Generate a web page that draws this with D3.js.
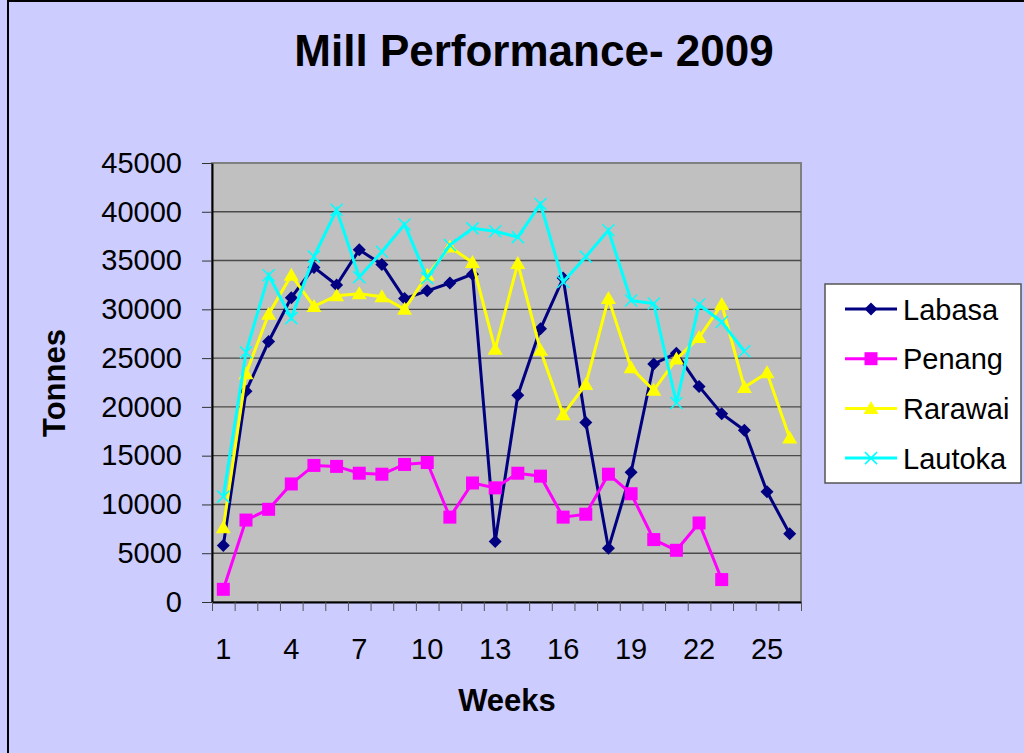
<!DOCTYPE html>
<html>
<head>
<meta charset="utf-8">
<script src="https://cdn.jsdelivr.net/npm/d3@7"></script>
<style>
  body { margin: 0; background: #ccccff; }
  svg { display: block; font-family: Arial, "Liberation Sans", sans-serif; }
</style>
</head>
<body>
<div id="chart"></div>
<script>
// Mill Performance 2009 - weekly tonnes per mill

const weeks = d3.range(1, 27);
const xTickLabels = [1, 4, 7, 10, 13, 16, 19, 22, 25];
const yTicks = [0, 5000, 10000, 15000, 20000, 25000, 30000, 35000, 40000, 45000];

const labasa = [5800, 21600, 26700, 31200, 34300, 32500, 36100, 34600, 31100, 31900, 32700, 33600, 6200,
    21200, 28000, 33200, 18400, 5500, 13300, 24400, 25500, 22100, 19300, 17600, 11300, 7000];
const penang = [1300, 8400, 9500, 12100, 14000, 13900, 13200, 13100, 14100, 14300, 8700, 12200, 11700,
    13200, 12900, 8700, 9000, 13100, 11100, 6400, 5300, 8100, 2300];
const rarawai = [7600, 23400, 29500, 33500, 30300, 31400, 31600, 31300, 30000, 33500, 36400, 34800, 25900,
    34700, 25800, 19200, 22300, 31100, 24000, 21700, 24900, 27100, 30500, 22000, 23500, 16800];
const lautoka = [10800, 25600, 33500, 29100, 35400, 40200, 33300, 35900, 38700, 33200, 36600, 38300, 38000,
    37400, 40800, 32800, 35400, 38100, 30900, 30600, 20400, 30500, 28700, 25700];

const seriesNames = ["Labasa", "Penang", "Rarawai", "Lautoka"];
const seriesColors = ["#000080", "#ff00ff", "#ffff00", "#00ffff"];
const seriesSymbols = ["diamond", "square", "triangle", "cross"];
const seriesData = [labasa, penang, rarawai, lautoka];

const width = 1024, height = 753;
const plot = { left: 212, right: 801, top: 163, bottom: 602 };

const svg = d3.select("#chart").append("svg")
    .attr("width", width)
    .attr("height", height);

// outer chart border (runs off the right and bottom edge)
svg.append("rect")
    .attr("x", 8).attr("y", 1)
    .attr("width", 1030).attr("height", 770)
    .attr("fill", "#ccccff")
    .attr("stroke", "#000")
    .attr("stroke-width", 2);

svg.append("text")
    .attr("x", 534).attr("y", 66)
    .attr("text-anchor", "middle")
    .attr("font-size", 44)
    .attr("font-weight", "bold")
    .text("Mill Performance- 2009");

const x = d3.scaleBand()
    .domain(weeks)
    .range([plot.left, plot.right])
    .padding(0);

const xEdge = d3.scaleLinear()
    .domain([0, weeks.length])
    .range([plot.left, plot.right]);

const y = d3.scaleLinear()
    .domain([0, 45000])
    .range([plot.bottom, plot.top]);

// plot area
svg.append("rect")
    .attr("x", plot.left).attr("y", plot.top)
    .attr("width", plot.right - plot.left)
    .attr("height", plot.bottom - plot.top)
    .attr("fill", "#c0c0c0")
    .attr("stroke", "#808080")
    .attr("stroke-width", 2);

// gridlines
svg.append("g")
    .selectAll("line")
    .data(yTicks.filter(d => d > 0 && d < 45000))
    .enter()
    .append("line")
    .attr("x1", plot.left).attr("x2", plot.right)
    .attr("y1", d => y(d)).attr("y2", d => y(d))
    .attr("stroke", "#4a4a4a")
    .attr("stroke-width", 1.4);

// Y axis
const yAxis = svg.append("g")
    .attr("transform", `translate(${plot.left},0)`)
    .call(d3.axisLeft(y).tickValues(yTicks).tickFormat(d3.format("d"))
        .tickSize(10).tickPadding(20).tickSizeOuter(0));
yAxis.select(".domain").attr("stroke", "#000").attr("stroke-width", 2);
yAxis.selectAll(".tick line").attr("stroke", "#333");
yAxis.selectAll("text").attr("font-size", 29).attr("fill", "#000").attr("font-family", "Arial, 'Liberation Sans', sans-serif");

// X axis tick marks at category edges
const xMarks = svg.append("g")
    .attr("transform", `translate(0,${plot.bottom})`)
    .call(d3.axisBottom(xEdge).tickValues(d3.range(0, weeks.length + 1)).tickSize(9).tickFormat("").tickSizeOuter(0));
xMarks.select(".domain").attr("stroke", "#000").attr("stroke-width", 2);
xMarks.selectAll(".tick line").attr("stroke", "#555");

// X axis labels at category centres
const xLabels = svg.append("g")
    .attr("transform", `translate(0,${plot.bottom})`)
    .call(d3.axisBottom(x).tickValues(xTickLabels).tickSize(0).tickPadding(36));
xLabels.select(".domain").remove();
xLabels.selectAll("text").attr("font-size", 29).attr("fill", "#000").attr("font-family", "Arial, 'Liberation Sans', sans-serif");

// axis titles
svg.append("text")
    .attr("x", 507).attr("y", 711)
    .attr("text-anchor", "middle")
    .attr("font-size", 31)
    .attr("font-weight", "bold")
    .text("Weeks");

svg.append("text")
    .attr("transform", "rotate(-90)")
    .attr("x", -383).attr("y", 65)
    .attr("text-anchor", "middle")
    .attr("font-size", 31)
    .attr("font-weight", "bold")
    .text("Tonnes");

function drawMarker(sel, kind, color) {
    if (kind === "diamond") {
        sel.append("path").attr("d", "M0,-6.5L6.5,0L0,6.5L-6.5,0Z").attr("fill", color);
    } else if (kind === "square") {
        sel.append("rect").attr("x", -6.5).attr("y", -6.5).attr("width", 13).attr("height", 13).attr("fill", color);
    } else if (kind === "triangle") {
        sel.append("path").attr("d", "M0,-7.5L7.5,5.5L-7.5,5.5Z").attr("fill", color);
    } else {
        sel.append("path").attr("d", "M-6,-6L6,6M-6,6L6,-6").attr("stroke", color).attr("stroke-width", 1.5).attr("fill", "none");
    }
}

const line = d3.line()
    .x((d, i) => x(weeks[i]) + x.bandwidth() / 2)
    .y(d => y(d));

seriesData.forEach((vals, s) => {
    const g = svg.append("g");
    g.append("path")
        .attr("d", line(vals))
        .attr("fill", "none")
        .attr("stroke", seriesColors[s])
        .attr("stroke-width", 3);
    g.selectAll(".pt")
        .data(vals)
        .enter()
        .append("g")
        .attr("class", "pt")
        .attr("transform", (d, i) => `translate(${x(weeks[i]) + x.bandwidth() / 2},${y(d)})`)
        .each(function () { drawMarker(d3.select(this), seriesSymbols[s], seriesColors[s]); });
});

// legend
const legend = svg.append("g");
legend.append("rect")
    .attr("x", 825).attr("y", 284)
    .attr("width", 196).attr("height", 199)
    .attr("fill", "#fff")
    .attr("stroke", "#555")
    .attr("stroke-width", 1.5);

seriesNames.forEach((name, i) => {
    const cy = 309 + i * 49.7;
    const item = legend.append("g");
    item.append("line")
        .attr("x1", 845).attr("x2", 897)
        .attr("y1", cy).attr("y2", cy)
        .attr("stroke", seriesColors[i])
        .attr("stroke-width", 3);
    const m = item.append("g").attr("transform", `translate(871,${cy})`);
    drawMarker(m, seriesSymbols[i], seriesColors[i]);
    item.append("text")
        .attr("x", 903).attr("y", cy + 10.5)
        .attr("font-size", 29)
        .text(name);
});
</script>
</body>
</html>
